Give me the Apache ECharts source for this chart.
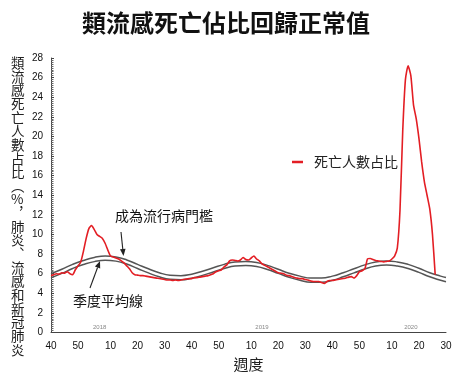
<!DOCTYPE html>
<html><head><meta charset="utf-8">
<script src="https://cdn.jsdelivr.net/npm/echarts@6/dist/echarts.min.js"></script>
<style>html,body{margin:0;padding:0;background:#fff}#c{width:465px;height:380px}</style>
</head><body><div id="c"></div>
<script>
const FONT = '"Noto Sans CJK TC","Noto Sans CJK SC","Noto Sans",sans-serif';

// Week-number segments: 2017 wk40-52, 2018 wk1-52, 2019 wk1-52, 2020 wk1-30
const weekSegments = [[40, 52], [1, 52], [1, 52], [1, 30]];
const weeks = [];
weekSegments.forEach(([a, b]) => { for (let w = a; w <= b; w++) weeks.push(String(w)); });

// Share of deaths (P&I&COVID), weekly from 2017 wk40
const deathShare = [
  5.8, 5.9, 6.0, 5.95, 6.1, 6.05, 6.2, 6.0, 5.9, 6.4,
  6.8, 7.2, 8.3, 9.6, 10.6, 10.9, 10.5, 10.0, 9.8, 9.6,
  9.1, 8.4, 7.8, 7.7, 7.6, 7.5, 7.3, 7.1, 6.8, 6.5,
  6.1, 5.9, 5.85, 5.8, 5.8, 5.75, 5.7, 5.65, 5.6, 5.55,
  5.5, 5.45, 5.4, 5.35, 5.35, 5.3, 5.35, 5.3, 5.35, 5.4,
  5.45, 5.5, 5.5, 5.6, 5.6, 5.65, 5.7, 5.75, 5.8, 5.9,
  6.0, 6.2, 6.3, 6.4, 6.7, 6.9, 7.3, 7.4, 7.35, 7.3,
  7.4, 7.65, 7.45, 7.4, 7.6, 7.8, 7.5, 7.3, 7.0, 6.85,
  6.7, 6.55, 6.4, 6.25, 6.1, 6.05, 6.0, 5.85, 5.8, 5.7,
  5.6, 5.55, 5.5, 5.5, 5.4, 5.35, 5.25, 5.2, 5.2, 5.2,
  5.1, 5.0, 5.2, 5.3, 5.3, 5.35, 5.4, 5.45, 5.5, 5.55,
  5.65, 5.7, 5.55, 5.8, 6.2, 6.3, 6.5, 7.5, 7.55, 7.45,
  7.35, 7.3, 7.25, 7.2, 7.25, 7.3, 7.5, 7.8, 8.6, 12.5,
  20.5, 25.8, 27.2, 26.2, 23.2, 21.8, 19.8, 17.4, 15.4, 14.0,
  12.6, 10.0, 5.9
];

// Epidemic threshold and seasonal baseline, read every 4 weeks (week index, value)
const thresholdIdx = [0, 4, 8, 12, 16, 20, 24, 28, 32, 36, 40, 44, 48, 52, 56, 60, 64, 68, 72, 76, 80, 84, 88, 92, 96, 100, 104, 108, 112, 116, 120, 124, 128, 132, 136, 140, 144, 146];
const thresholdVal = [6.0, 6.45, 6.95, 7.35, 7.65, 7.8, 7.7, 7.4, 6.95, 6.5, 6.1, 5.85, 5.8, 5.95, 6.25, 6.6, 6.95, 7.2, 7.25, 7.15, 6.85, 6.45, 6.05, 5.75, 5.55, 5.55, 5.75, 6.1, 6.5, 6.9, 7.2, 7.3, 7.2, 6.95, 6.55, 6.1, 5.75, 5.6];
const baselineVal = [5.58, 6.03, 6.53, 6.93, 7.23, 7.38, 7.28, 6.98, 6.53, 6.08, 5.68, 5.43, 5.38, 5.53, 5.83, 6.18, 6.53, 6.78, 6.83, 6.73, 6.43, 6.03, 5.63, 5.33, 5.13, 5.13, 5.33, 5.68, 6.08, 6.48, 6.78, 6.88, 6.78, 6.53, 6.13, 5.68, 5.33, 5.18];

const yearLabels = ['2018', '2019', '2020'];
const yearLabelWeekIdx = [18, 78, 133];

const titleText = '類流感死亡佔比回歸正常值';
const yTitle = ['類','流','感','死','亡','人','數','占','比','︵','%','︐','肺','炎','︑','流','感','和','新','冠','肺','炎'];

function arrow(x1, y1, x2, y2) {
  const ang = Math.atan2(y2 - y1, x2 - x1), L = 7, W = 2.8;
  const bx = x2 - L * Math.cos(ang), by = y2 - L * Math.sin(ang);
  const px = -Math.sin(ang) * W, py = Math.cos(ang) * W;
  return {
    type: 'group', children: [
      { type: 'line', shape: { x1, y1, x2: bx, y2: by }, style: { stroke: '#222', lineWidth: 1.1 } },
      { type: 'polygon', shape: { points: [[x2, y2], [bx + px, by + py], [bx - px, by - py]] }, style: { fill: '#222' } }
    ]
  };
}

const chart = echarts.init(document.getElementById('c'), null, { renderer: 'canvas' });
const option = {
  animation: false,
  backgroundColor: '#fff',
  title: {
    text: titleText, left: 82, top: 11, padding: 0,
    textStyle: { fontFamily: FONT, fontSize: 24, fontWeight: 'bold', color: '#111' }
  },
  legend: {
    data: ['死亡人數占比'], left: 287, top: 150, icon: 'rect', itemWidth: 11, itemHeight: 2.5,
    textStyle: { fontFamily: FONT, fontSize: 14, color: '#222', padding: [0, 0, 0, 6] }
  },
  grid: { left: 51, right: 19, top: 58, bottom: 47.5, containLabel: false },
  xAxis: {
    type: 'category', data: weeks, boundaryGap: false,
    name: '週度', nameLocation: 'middle', nameGap: 24,
    nameTextStyle: { fontFamily: FONT, fontSize: 15, color: '#222' },
    axisLine: { lineStyle: { color: '#444', width: 1 } },
    axisTick: { show: false },
    axisLabel: {
      interval: (i, v) => Number(v) % 10 === 0, margin: 9,
      fontFamily: '"Liberation Sans",sans-serif', fontSize: 10, color: '#111'
    },
    splitLine: { show: false }
  },
  yAxis: {
    type: 'value', min: 0, max: 28, interval: 2,
    axisLine: { show: true, lineStyle: { color: '#444', width: 1 } },
    axisTick: { show: true, inside: true, length: 3, lineStyle: { color: '#444' } },
    minorTick: { show: true, splitNumber: 10, length: 2.5, lineStyle: { color: '#666' } },
    axisLabel: { margin: 8, fontFamily: '"Liberation Sans",sans-serif', fontSize: 10, color: '#111' },
    splitLine: { show: false }
  },
  series: [
    {
      name: '成為流行病門檻', type: 'line', smooth: true, symbol: 'none',
      data: thresholdIdx.map((x, k) => [x, thresholdVal[k]]),
      lineStyle: { color: '#555', width: 1.5 }, z: 2
    },
    {
      name: '季度平均線', type: 'line', smooth: true, symbol: 'none',
      data: thresholdIdx.map((x, k) => [x, baselineVal[k]]),
      lineStyle: { color: '#555', width: 1.5 }, z: 2
    },
    {
      name: '死亡人數占比', type: 'line', smooth: 0.2, symbol: 'none',
      data: deathShare,
      lineStyle: { color: '#e31e24', width: 1.6 }, itemStyle: { color: '#e31e24' }, z: 3
    }
  ]
};
chart.setOption(option);

const g = [];
g.push({
  type: 'text', left: 11, top: 56,
  style: { text: yTitle.join('\n'), fontFamily: FONT, fontSize: 13.5, lineHeight: 13.65, fill: '#222', align: 'center' }
});
g.push({ type: 'text', x: 115, y: 209, style: { text: '成為流行病門檻', fontFamily: FONT, fontSize: 14, fill: '#111' } });
g.push({ type: 'text', x: 73, y: 294, style: { text: '季度平均線', fontFamily: FONT, fontSize: 14, fill: '#111' } });
g.push(arrow(121, 232, 123.5, 256));
g.push(arrow(90, 288, 100, 261));
yearLabels.forEach((t, k) => {
  const p = chart.convertToPixel({ xAxisIndex: 0, yAxisIndex: 0 }, [yearLabelWeekIdx[k], 0]);
  g.push({ type: 'text', x: p[0], y: p[1] - 2, style: { text: t, fontFamily: '"Liberation Sans",sans-serif', fontSize: 6, fill: '#888', align: 'center', verticalAlign: 'bottom' } });
});
chart.setOption({ graphic: g });
</script>
</body></html>
